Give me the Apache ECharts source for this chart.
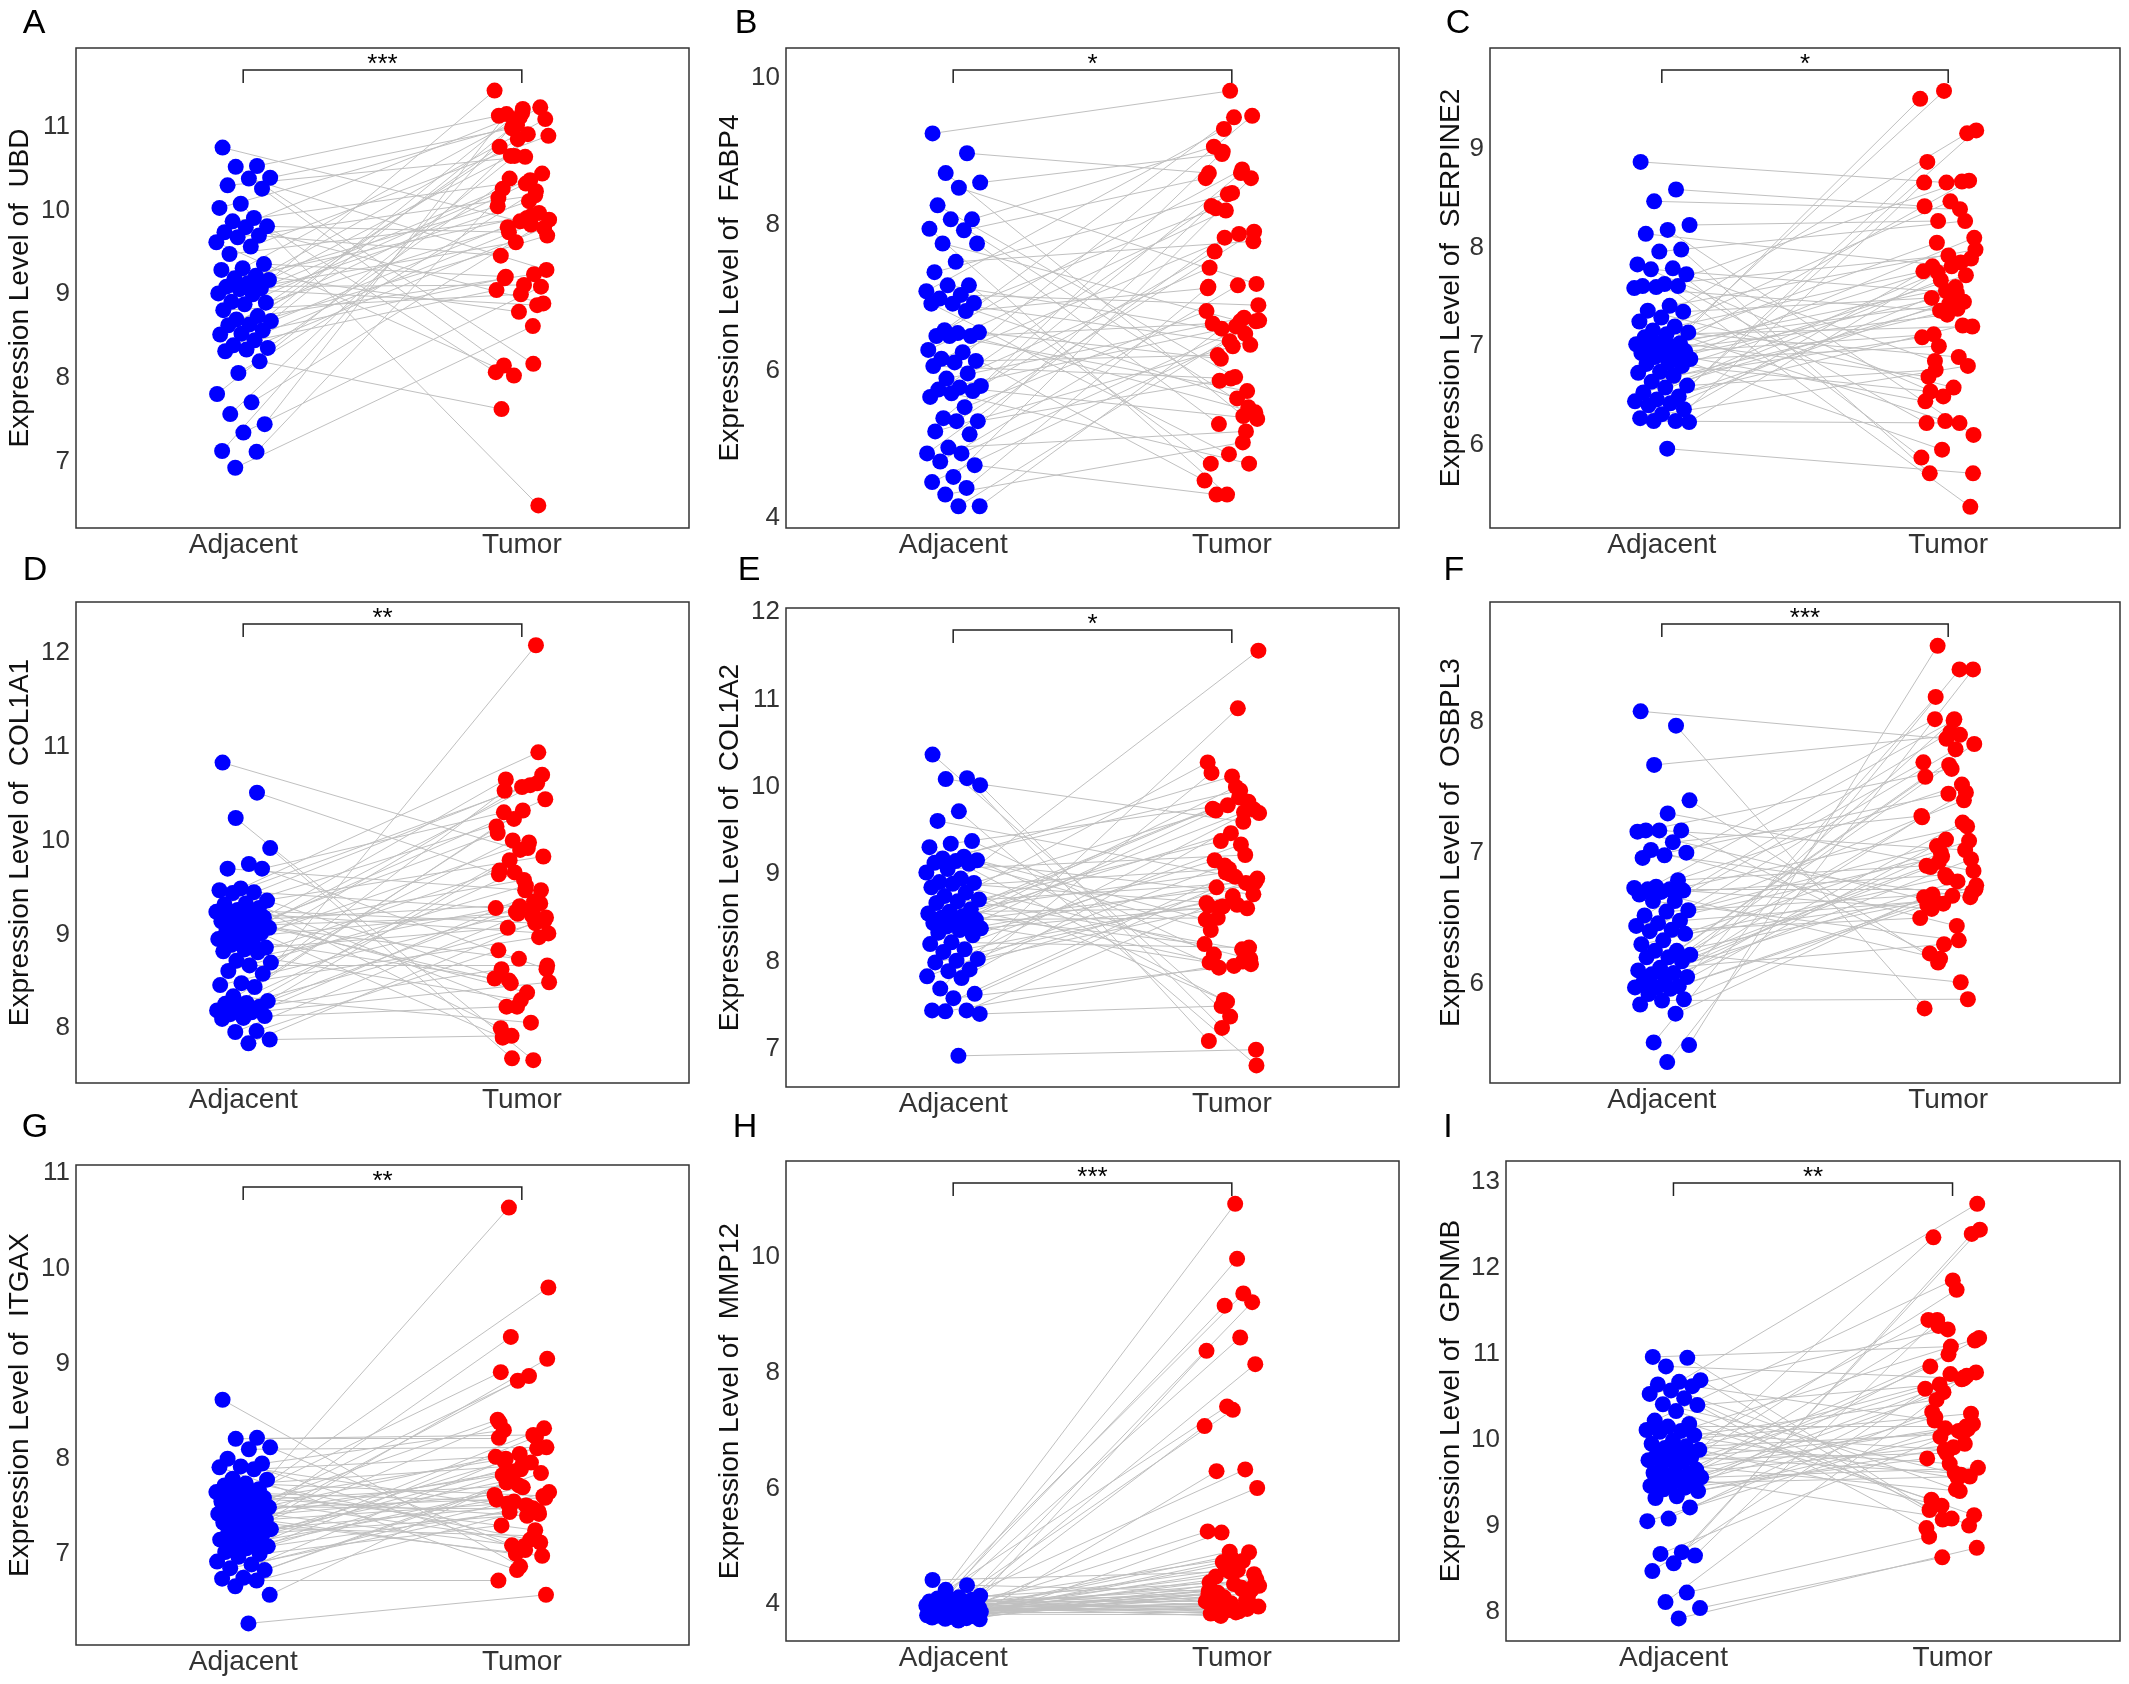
<!DOCTYPE html>
<html><head><meta charset="utf-8">
<script src="https://cdn.jsdelivr.net/npm/echarts@6/dist/echarts.min.js"></script>
<style>html,body{margin:0;padding:0;background:#fff}#c{width:2129px;height:1684px}</style>
</head><body><div id="c"></div>
<script>
// ---------------- data ----------------
const categories = ['Adjacent', 'Tumor'];
const genes = ['UBD', 'FABP4', 'SERPINE2', 'COL1A1', 'COL1A2', 'OSBPL3', 'ITGAX', 'MMP12', 'GPNMB'];
const panelLetters = ['A', 'B', 'C', 'D', 'E', 'F', 'G', 'H', 'I'];
const significance = ['***', '*', '*', '**', '*', '***', '**', '***', '**'];
const yRanges = [[6.211, 11.938], [3.864, 10.404], [5.155, 10.026], [7.417, 12.541], [6.563, 12.049], [5.240, 8.915], [6.043, 11.087], [3.366, 11.660], [7.657, 13.238]];
const yTicks = [[7, 8, 9, 10, 11], [4, 6, 8, 10], [6, 7, 8, 9], [8, 9, 10, 11, 12], [7, 8, 9, 10, 11, 12], [6, 7, 8], [7, 8, 9, 10, 11], [4, 6, 8, 10], [8, 9, 10, 11, 12, 13]];

const adjUBD = [10.75,10.53,10.52,10.39,10.38,10.30,10.26,10.08,10.03,9.91,9.87,9.81,9.80,9.74,9.70,9.68,9.62,9.57,9.48,9.36,9.31,9.29,9.22,9.19,9.17,9.13,9.09,9.07,9.06,9.01,9.00,8.91,8.90,8.88,8.81,8.74,8.70,8.68,8.64,8.63,8.57,8.53,8.52,8.45,8.39,8.36,8.34,8.32,8.20,8.06,7.81,7.71,7.57,7.45,7.35,7.13,7.12,6.93];
const tumUBD = [9.87,11.13,8.17,10.98,9.29,10.64,8.15,6.48,11.02,8.07,10.36,9.74,8.89,11.16,9.46,10.18,8.03,10.89,9.91,9.21,11.23,8.79,10.05,9.94,10.65,11.09,9.11,10.26,8.87,9.62,11.43,10.11,9.80,10.44,9.00,10.76,9.24,11.00,9.70,10.32,9.19,9.97,10.85,9.05,9.83,10.38,9.79,11.21,7.63,10.23,10.65,9.89,10.91,11.15,9.09,11.11,10.15,8.62];

const adjFABP4 = [9.24,8.97,8.70,8.57,8.50,8.26,8.07,8.07,7.94,7.92,7.74,7.74,7.49,7.35,7.17,7.17,7.09,7.04,6.99,6.93,6.92,6.92,6.82,6.56,6.53,6.52,6.48,6.48,6.48,6.29,6.26,6.17,6.14,6.12,6.07,5.97,5.90,5.80,5.78,5.75,5.73,5.70,5.65,5.51,5.36,5.32,5.32,5.18,5.14,4.96,4.88,4.88,4.77,4.72,4.56,4.49,4.41,4.32,4.16,4.16];
const tumFABP4 = [9.82,8.70,5.39,8.96,7.19,5.92,9.06,5.51,4.32,8.63,6.68,5.28,7.77,8.43,4.74,6.51,9.30,6.90,5.63,8.22,6.36,4.87,7.13,8.75,6.17,5.44,9.46,6.65,5.73,8.19,4.51,7.87,6.22,9.48,5.90,7.41,6.73,8.99,5.35,6.61,7.63,4.74,8.41,6.82,8.70,5.87,7.90,6.34,8.25,5.18,7.82,6.69,7.17,4.32,8.63,6.41,7.15,5.03,6.58,6.68];

const adjSERPINE2 = [8.87,8.59,8.47,8.23,8.18,8.14,7.98,7.96,7.83,7.79,7.78,7.73,7.63,7.61,7.61,7.60,7.59,7.41,7.36,7.35,7.29,7.25,7.20,7.16,7.14,7.12,7.09,7.03,7.03,7.02,7.00,6.98,6.95,6.94,6.93,6.91,6.89,6.87,6.83,6.82,6.80,6.74,6.73,6.70,6.64,6.60,6.58,6.53,6.49,6.46,6.44,6.42,6.40,6.36,6.31,6.27,6.24,6.24,6.23,5.96];
const tumSERPINE2 = [8.66,8.42,8.39,8.27,6.10,7.81,5.71,8.27,6.49,5.87,7.54,6.85,5.37,7.92,6.22,8.67,7.36,7.98,6.58,7.49,9.16,6.24,7.76,6.89,8.05,7.20,8.47,6.69,7.45,5.95,9.51,7.60,7.12,8.68,7.32,6.44,7.85,7.00,8.10,7.52,6.54,7.72,9.59,7.09,7.38,6.76,7.89,7.43,8.87,7.21,7.67,9.19,7.47,7.81,6.80,7.56,8.66,6.22,7.75,5.71];

const adjCOL1A1 = [10.83,10.51,10.24,9.92,9.75,9.70,9.70,9.49,9.47,9.45,9.44,9.36,9.33,9.32,9.28,9.26,9.24,9.22,9.20,9.18,9.15,9.14,9.12,9.09,9.07,9.05,9.03,9.01,8.98,8.95,8.93,8.89,8.86,8.84,8.82,8.81,8.72,8.70,8.67,8.61,8.58,8.48,8.46,8.44,8.34,8.29,8.27,8.26,8.23,8.21,8.19,8.17,8.15,8.13,8.11,8.10,7.97,7.96,7.88,7.84];
const tumCOL1A1 = [9.90,9.64,7.66,7.68,8.63,9.47,10.30,10.94,8.23,9.28,10.59,8.51,9.83,10.57,8.00,9.12,10.23,9.01,8.38,10.65,9.33,8.74,10.08,9.20,8.48,10.44,9.58,7.90,10.61,9.24,8.53,9.98,9.07,10.70,8.30,9.68,9.35,10.00,8.67,9.52,10.53,8.97,9.22,10.15,8.06,9.79,9.14,10.32,8.63,12.08,9.66,8.49,9.92,8.23,9.47,9.30,8.83,9.26,7.92,9.18];

const adjCOL1A2 = [10.37,10.10,10.09,10.02,9.72,9.61,9.38,9.35,9.31,9.20,9.18,9.16,9.15,9.13,9.12,9.06,9.02,8.95,8.91,8.90,8.89,8.85,8.79,8.75,8.71,8.69,8.67,8.60,8.57,8.55,8.52,8.50,8.48,8.46,8.44,8.42,8.40,8.38,8.36,8.33,8.30,8.22,8.20,8.14,8.11,8.03,8.01,7.99,7.91,7.89,7.83,7.81,7.69,7.63,7.58,7.44,7.44,7.43,7.40,6.92];
const tumCOL1A2 = [7.37,7.09,9.60,7.24,6.81,8.97,8.08,9.83,7.54,8.48,9.96,7.93,8.77,10.12,8.36,9.22,7.56,11.56,8.65,9.73,8.03,9.06,10.28,8.14,9.38,8.91,7.95,9.75,8.61,9.02,8.20,9.88,8.50,8.87,9.47,7.99,9.71,8.63,8.95,10.00,9.16,8.16,9.79,8.67,9.34,8.62,9.74,8.75,10.16,8.90,9.10,9.70,10.90,8.85,7.97,9.00,8.64,8.00,7.49,6.99];

const adjOSBPL3 = [8.08,7.97,7.67,7.40,7.30,7.17,7.17,7.17,7.16,7.08,7.02,7.00,6.98,6.96,6.79,6.74,6.73,6.72,6.72,6.71,6.70,6.68,6.63,6.63,6.56,6.55,6.52,6.48,6.46,6.44,6.41,6.40,6.38,6.33,6.30,6.25,6.25,6.22,6.20,6.20,6.17,6.12,6.10,6.08,6.07,6.05,6.04,6.01,5.98,5.97,5.97,5.96,5.92,5.88,5.87,5.84,5.77,5.55,5.53,5.40];
const tumOSBPL3 = [7.87,5.81,7.90,6.16,6.86,7.64,6.23,7.02,6.61,7.28,6.44,8.02,6.66,7.45,6.90,7.52,6.19,6.72,8.01,6.57,7.20,6.83,7.69,6.33,7.05,6.70,7.92,6.63,7.40,6.97,6.50,7.79,6.64,7.09,6.81,7.58,6.01,6.93,7.83,6.67,6.89,7.46,6.30,7.27,6.78,8.19,6.95,7.67,6.60,7.23,7.00,6.75,8.02,6.68,5.88,7.10,6.66,8.40,8.58,8.40];

const adjITGAX = [8.62,8.22,8.21,8.12,8.10,8.00,7.95,7.92,7.91,7.89,7.79,7.78,7.74,7.72,7.68,7.66,7.65,7.62,7.60,7.59,7.57,7.55,7.53,7.50,7.49,7.48,7.47,7.45,7.44,7.42,7.40,7.38,7.36,7.35,7.33,7.30,7.28,7.26,7.25,7.23,7.21,7.20,7.15,7.13,7.11,7.08,7.06,7.02,7.00,6.97,6.92,6.89,6.85,6.83,6.75,6.74,6.72,6.66,6.57,6.27];
const tumITGAX = [6.87,8.22,8.25,7.09,8.12,7.04,8.30,7.45,6.83,8.02,7.15,10.64,7.61,7.93,8.91,7.25,7.55,9.80,7.40,8.00,7.12,7.72,8.41,7.47,9.28,7.59,7.08,7.83,8.11,7.00,7.62,8.87,7.53,6.98,7.89,8.38,7.19,7.78,9.05,7.51,7.97,7.42,8.82,7.57,7.96,7.44,8.32,7.70,7.30,8.23,7.87,7.65,7.50,7.75,7.85,8.05,6.72,7.48,7.79,6.57];

const adjMMP12 = [4.42,4.33,4.25,4.15,4.12,4.10,4.08,4.06,4.05,4.04,4.03,4.02,4.01,4.00,4.00,3.99,3.98,3.97,3.97,3.96,3.96,3.95,3.95,3.94,3.94,3.93,3.93,3.92,3.92,3.91,3.91,3.90,3.90,3.89,3.89,3.88,3.88,3.87,3.87,3.86,3.86,3.85,3.85,3.84,3.84,3.83,3.83,3.82,3.82,3.81,3.81,3.80,3.80,3.79,3.78,3.77,3.76,3.75,3.74,3.72];
const tumMMP12 = [4.56,4.23,9.37,3.98,4.41,10.92,3.87,4.17,7.42,4.05,8.61,3.93,4.30,4.79,3.84,6.33,4.12,3.96,9.97,4.48,4.00,3.90,5.26,4.26,3.80,8.15,4.35,4.08,3.92,4.60,7.08,3.88,4.20,9.22,4.02,4.38,3.94,4.73,6.01,3.86,4.14,4.90,3.99,8.38,4.29,3.82,4.52,7.36,4.11,4.06,9.16,4.32,4.59,6.30,4.24,4.91,4.18,4.75,5.24,4.44];

const adjGPNMB = [10.96,10.95,10.85,10.69,10.67,10.64,10.62,10.57,10.53,10.48,10.41,10.40,10.33,10.22,10.18,10.15,10.11,10.10,10.09,10.05,9.99,9.95,9.92,9.90,9.88,9.86,9.82,9.79,9.77,9.76,9.74,9.72,9.65,9.63,9.61,9.59,9.58,9.56,9.55,9.53,9.51,9.49,9.46,9.44,9.42,9.40,9.34,9.32,9.21,9.08,9.05,8.69,8.67,8.65,8.56,8.47,8.22,8.11,8.04,7.92];
const tumGPNMB = [11.08,9.18,10.71,9.07,12.74,9.42,10.22,9.00,11.28,8.97,9.59,10.64,9.12,11.85,9.30,10.15,9.88,11.18,9.55,10.46,10.30,9.72,11.39,10.07,9.23,10.78,9.61,12.35,10.12,9.84,10.59,9.40,11.32,10.18,9.08,10.85,9.95,10.55,9.67,11.74,10.26,9.57,10.99,9.78,10.70,10.03,11.15,9.91,10.32,10.74,10.13,12.44,10.10,11.39,12.39,10.76,8.87,10.72,8.63,8.74];

const adjacentSets = [adjUBD, adjFABP4, adjSERPINE2, adjCOL1A1, adjCOL1A2, adjOSBPL3, adjITGAX, adjMMP12, adjGPNMB];
const tumorSets = [tumUBD, tumFABP4, tumSERPINE2, tumCOL1A1, tumCOL1A2, tumOSBPL3, tumITGAX, tumMMP12, tumGPNMB];

// ---------------- layout (px) ----------------
const layout = [
  {left: 76,   top: 48,   width: 613, height: 480, gap: 42, lx: 34,   ly: 24},
  {left: 786,  top: 48,   width: 613, height: 480, gap: 42, lx: 746,  ly: 24},
  {left: 1490, top: 48,   width: 630, height: 480, gap: 25, lx: 1458, ly: 24},
  {left: 76,   top: 602,  width: 613, height: 481, gap: 42, lx: 35,   ly: 571},
  {left: 786,  top: 608,  width: 613, height: 479, gap: 42, lx: 749,  ly: 571},
  {left: 1490, top: 602,  width: 630, height: 481, gap: 25, lx: 1454, ly: 571},
  {left: 76,   top: 1165, width: 613, height: 480, gap: 42, lx: 35,   ly: 1128},
  {left: 786,  top: 1161, width: 613, height: 480, gap: 42, lx: 745,  ly: 1128},
  {left: 1506, top: 1161, width: 614, height: 480, gap: 41, lx: 1448, ly: 1128}
];
const X_MIN = 0.4, X_MAX = 2.6;
const FONT = 'Liberation Sans, Arial, Helvetica, sans-serif';
// deterministic horizontal jitter (low-discrepancy sequence), width +-0.1
function jit(i, seed) { return (((i * 0.6180339887 + seed) % 1) - 0.5) * 0.2; }

const grids = [], xAxes = [], yAxes = [], series = [], graphics = [];
layout.forEach((p, k) => {
  grids.push({left: p.left, top: p.top, width: p.width, height: p.height, show: true,
    borderColor: '#333', borderWidth: 1.5, backgroundColor: '#fff'});
  xAxes.push({gridIndex: k, type: 'value', min: X_MIN, max: X_MAX,
    axisLine: {show: false}, axisTick: {show: false}, splitLine: {show: false},
    axisLabel: {customValues: [1, 2], formatter: v => categories[Math.round(v) - 1],
      fontSize: 28, color: '#333', margin: 3, fontFamily: FONT}});
  yAxes.push({gridIndex: k, type: 'value', min: yRanges[k][0], max: yRanges[k][1],
    axisLine: {show: false}, axisTick: {show: false}, splitLine: {show: false},
    axisLabel: {customValues: yTicks[k], fontSize: 26, color: '#333', margin: 6, fontFamily: FONT},
    name: 'Expression Level of  ' + genes[k], nameLocation: 'middle', nameGap: p.gap,
    nameTextStyle: {fontSize: 28, color: '#111', fontFamily: FONT}});
  const adj = adjacentSets[k], tum = tumorSets[k];
  const adjPts = adj.map((v, i) => [1 + jit(i, 0.13), v]);
  const tumPts = tum.map((v, i) => [2 + jit(i, 0.47), v]);
  series.push({type: 'lines', coordinateSystem: 'cartesian2d', xAxisIndex: k, yAxisIndex: k,
    silent: true, z: 1, lineStyle: {color: '#c0c0c0', width: 1, opacity: 1},
    data: adjPts.map((a, i) => ({coords: [a, tumPts[i]]}))});
  series.push({type: 'scatter', xAxisIndex: k, yAxisIndex: k, z: 3, symbolSize: 16,
    itemStyle: {color: '#0000ff', opacity: 1}, data: adjPts});
  series.push({type: 'scatter', xAxisIndex: k, yAxisIndex: k, z: 3, symbolSize: 16,
    itemStyle: {color: '#ff0000', opacity: 1}, data: tumPts});
  // bracket + significance stars
  const x1 = p.left + p.width * (1 - X_MIN) / (X_MAX - X_MIN);
  const x2 = p.left + p.width * (2 - X_MIN) / (X_MAX - X_MIN);
  const yb = p.top + 22, yl = p.top + 35;
  graphics.push({type: 'polyline', shape: {points: [[x1, yl], [x1, yb], [x2, yb], [x2, yl]]},
    style: {stroke: '#222', lineWidth: 1.5, fill: null}, z: 10});
  graphics.push({type: 'text', x: (x1 + x2) / 2, y: p.top + 17,
    style: {text: significance[k], fontSize: 26, fill: '#000', fontFamily: FONT, align: 'center', verticalAlign: 'middle'}, z: 10});
  graphics.push({type: 'text', x: p.lx, y: p.ly,
    style: {text: panelLetters[k], fontSize: 34, fill: '#000', fontFamily: FONT, align: 'center', verticalAlign: 'middle'}, z: 10});
});

const chart = echarts.init(document.getElementById('c'), null, {renderer: 'canvas'});
chart.setOption({
  animation: false,
  backgroundColor: '#fff',
  grid: grids, xAxis: xAxes, yAxis: yAxes, series: series, graphic: graphics
});
</script></body></html>
